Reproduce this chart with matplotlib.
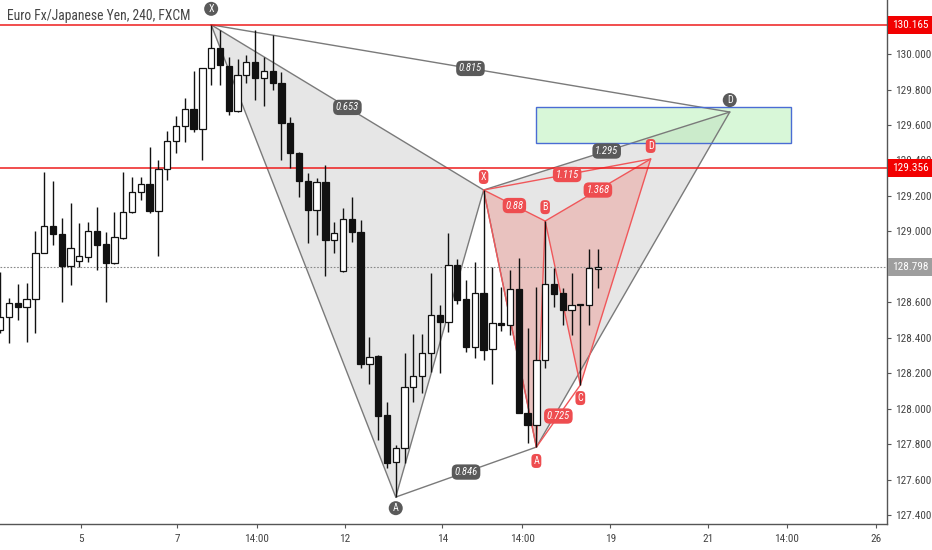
import matplotlib
matplotlib.use("Agg")
import matplotlib.pyplot as plt
from matplotlib.patches import Polygon, Rectangle
import matplotlib.transforms as mtransforms
from matplotlib import font_manager as fm

# ---------------- data ----------------
title = "Euro Fx/Japanese Yen, 240, FXCM"

opens = [128.443, 128.517, 128.596, 128.573, 128.618, 128.878, 129.030, 128.985, 128.804, 128.833,
         128.855, 129.002, 128.928, 128.821, 128.962, 129.109, 129.222, 129.267, 129.115, 129.351,
         129.509, 129.594, 129.690, 129.577, 129.921, 130.034, 129.932, 129.679, 129.882, 129.955,
         129.865, 129.904, 129.836, 129.611, 129.442, 129.284, 129.120, 129.278, 128.951, 128.776,
         129.069, 128.996, 128.252, 128.297, 127.964, 127.699, 127.778, 128.122, 128.184, 128.314,
         128.528, 128.488, 128.810, 128.618, 128.347, 128.652, 128.336, 128.483, 128.472, 128.675,
         127.975, 127.908, 128.274, 128.703, 128.652, 128.556, 128.584, 128.584, 128.787]
highs = [128.770, 128.624, 128.703, 128.708, 129.002, 129.334, 129.284, 129.075, 129.160, 129.047,
         129.052, 129.137, 128.996, 129.109, 129.334, 129.306, 129.306, 129.476, 129.402, 129.566,
         129.650, 129.752, 129.904, 129.921, 130.165, 130.135, 129.983, 129.972, 129.994, 130.135,
         129.983, 130.107, 129.899, 129.645, 129.447, 129.329, 129.301, 129.374, 129.052, 129.131,
         129.193, 129.064, 128.404, 128.302, 128.037, 127.795, 128.314, 128.421, 128.421, 128.765,
         128.584, 128.990, 128.844, 128.725, 128.827, 129.233, 128.799, 128.686, 128.782, 128.849,
         128.455, 128.686, 129.058, 128.793, 128.680, 128.765, 128.590, 128.900, 128.900]
lows = [128.426, 128.370, 128.500, 128.376, 128.426, 128.875, 128.923, 128.601, 128.697, 128.799,
        128.827, 128.782, 128.601, 128.815, 128.955, 129.103, 129.177, 129.103, 128.861, 129.289,
        129.442, 129.504, 129.560, 129.402, 129.825, 129.825, 129.656, 129.673, 129.836, 129.741,
        129.707, 129.797, 129.402, 129.357, 129.193, 128.934, 128.979, 128.748, 128.878, 128.770,
        128.940, 128.229, 128.139, 127.823, 127.665, 127.501, 127.693, 128.037, 128.088, 128.206,
        128.201, 128.432, 128.590, 128.319, 128.285, 128.274, 128.139, 128.438, 128.415, 127.975,
        127.806, 127.783, 128.229, 128.573, 128.472, 128.415, 128.133, 128.472, 128.680]
closes = [128.517, 128.596, 128.573, 128.618, 128.878, 129.030, 128.985, 128.804, 128.906, 128.861,
          129.002, 128.923, 128.821, 128.968, 129.109, 129.222, 129.267, 129.115, 129.351, 129.509,
          129.594, 129.690, 129.577, 129.921, 130.034, 129.938, 129.679, 129.882, 129.955, 129.865,
          129.904, 129.836, 129.611, 129.442, 129.284, 129.120, 129.278, 128.951, 128.990, 129.069,
          128.996, 128.252, 128.291, 127.958, 127.693, 127.778, 128.122, 128.184, 128.314, 128.528,
          128.488, 128.810, 128.613, 128.347, 128.652, 128.331, 128.483, 128.472, 128.675, 127.975,
          127.908, 128.274, 128.703, 128.646, 128.556, 128.584, 128.590, 128.793, 128.798]

# x tick labels and their positions (in bar units)
xtick_labels = ["5", "7", "14:00", "12", "14", "14:00", "19", "21", "14:00", "26"]
xtick_bars = [9.15, 20.1, 29.2, 39.2, 50.3, 59.4, 69.4, 80.5, 89.5, 99.6]

ytick_values = [127.4, 127.6, 127.8, 128.0, 128.2, 128.4, 128.6, 128.8, 129.0, 129.2, 129.4, 129.6, 129.8, 130.0]

# horizontal levels
red_levels = [130.165, 129.356]
last_price = 128.798

# harmonic pattern points (bar index, price)
grey_names = ["X", "A", "B", "C", "D"]
grey_bars = [24, 45, 55, 61, 83]
grey_prices = [130.165, 127.501, 129.233, 127.783, 129.673]
grey_ratios = {"XB": "0.653", "XD": "0.815", "AC": "0.846", "BD": "1.295"}

red_names = ["X", "A", "B", "C", "D"]
red_bars = [55, 61, 62, 66, 74]
red_prices = [129.233, 127.783, 129.058, 128.133, 129.408]
red_ratios = {"XB": "0.88", "XD": "1.115", "AC": "0.725", "BD": "1.368"}

# target zone box (bar start, bar end, price low, price high)
zone_bars = [61, 90]
zone_prices = [129.498, 129.701]

# ---------------- font choice (narrow font if available) ----------------
_fonts = fm.fontManager.ttflist
_names = {f.name for f in _fonts}


def _is_cond(f):
    s = f.stretch
    if isinstance(s, str):
        return 'condensed' in s or 'narrow' in s
    return s < 500


FSTRETCH = 'normal'
if 'Liberation Sans Narrow' in _names:
    FAM, FSCALE = 'Liberation Sans Narrow', 0.95
elif 'Roboto Condensed' in _names:
    FAM, FSCALE = 'Roboto Condensed', 0.85
elif any(f.name == 'DejaVu Sans' and _is_cond(f) for f in _fonts):
    FAM, FSCALE, FSTRETCH = 'DejaVu Sans', 0.75, 'condensed'
elif any(f.name == 'Open Sans' and _is_cond(f) for f in _fonts):
    FAM, FSCALE, FSTRETCH = 'Open Sans', 0.8, 'condensed'
else:
    FAM, FSCALE = 'Liberation Sans', 0.72

plt.rcParams['font.family'] = [FAM, 'DejaVu Sans']
plt.rcParams['font.stretch'] = FSTRETCH


def fs(v):
    return v * FSCALE


# ---------------- figure ----------------
fig = plt.figure(figsize=(9.32, 5.5), dpi=100)
ax = fig.add_axes([0, 26 / 550, 887 / 932, 524 / 550])
ax.set_xlim(-0.023, 100.89)
ax.set_ylim(127.349, 130.305)
ax.set_facecolor('white')

for s in ['top', 'left']:
    ax.spines[s].set_visible(False)
for s in ['right', 'bottom']:
    ax.spines[s].set_color('#555555')
    ax.spines[s].set_linewidth(1.0)

ax.yaxis.tick_right()
ax.set_yticks(ytick_values)
ax.set_yticklabels([f"{v:.3f}" for v in ytick_values])
ax.set_xticks(xtick_bars)
ax.set_xticklabels(xtick_labels)
ax.tick_params(axis='y', length=3, width=0.8, pad=2.5, labelsize=fs(9.5), colors='#555555', labelcolor='#444444')
ax.tick_params(axis='x', length=3, width=0.8, pad=4, labelsize=fs(9.5), colors='#555555', labelcolor='#444444')

# zone box
ax.add_patch(Rectangle((zone_bars[0], zone_prices[0]), zone_bars[1] - zone_bars[0],
                       zone_prices[1] - zone_prices[0],
                       facecolor='#b2f0b2', alpha=0.5, edgecolor='none', zorder=1.2))
ax.add_patch(Rectangle((zone_bars[0], zone_prices[0]), zone_bars[1] - zone_bars[0],
                       zone_prices[1] - zone_prices[0],
                       facecolor='none', edgecolor='#4a6cd4', lw=1.0, zorder=2.5))


def draw_pattern(bars, prices, ratios, fill, fill_alpha, line, lbl_fc):
    P = dict(zip("XABCD", zip(bars, prices)))
    for tri in ["XAB", "BCD"]:
        ax.add_patch(Polygon([P[k] for k in tri], closed=True, facecolor=fill, alpha=fill_alpha,
                             edgecolor='none', zorder=1))
    for seg in ["XA", "AB", "BC", "CD", "XB", "BD", "AC", "XD"]:
        (x1, y1), (x2, y2) = P[seg[0]], P[seg[1]]
        ax.plot([x1, x2], [y1, y2], color=line, lw=1.0, zorder=2, solid_capstyle='round')
    for seg, txt in ratios.items():
        (x1, y1), (x2, y2) = P[seg[0]], P[seg[1]]
        ax.text((x1 + x2) / 2, (y1 + y2) / 2, txt, ha='center', va='center', fontsize=fs(9),
                color='white', style='italic', zorder=8,
                bbox=dict(boxstyle='round,pad=0.25,rounding_size=0.5', fc=lbl_fc, ec='none'))
    return P


draw_pattern(grey_bars, grey_prices, grey_ratios, '#9e9e9e', 0.25, '#7a7a7a', '#5a5a5a')
draw_pattern(red_bars, red_prices, red_ratios, '#f44336', 0.22, '#f0575a', '#ee4d50')

# horizontal lines
for lv in red_levels:
    ax.axhline(lv, color='#ee1c1c', lw=1.1, zorder=2.2)
ax.axhline(last_price, color='#888888', lw=0.8, ls=(0, (1.5, 1.5)), zorder=2.2)

# candles
w = 0.72
for i, (o, h, l, c) in enumerate(zip(opens, highs, lows, closes)):
    ax.vlines(i, l, h, color='#111111', lw=1.0, zorder=3)
    up = c >= o
    ax.add_patch(Rectangle((i - w / 2, min(o, c)), w, max(abs(c - o), 0.006),
                           facecolor='white' if up else '#111111',
                           edgecolor='#111111', lw=0.9, zorder=4))

# point labels
grey_off = {"X": 11.5, "A": -8, "D": 8.6}
for name, b, p in zip(grey_names, grey_bars, grey_prices):
    if name in grey_off:
        ax.annotate(name, xy=(b, p), xytext=(0, grey_off[name]), textcoords='offset points',
                    ha='center', va='center', fontsize=fs(8.5), color='white', zorder=9,
                    bbox=dict(boxstyle='circle,pad=0.2', fc='#5a5a5a', ec='none'))
red_off = {"X": 9.4, "A": -10, "B": 10, "C": -9.4, "D": 9.4}
for name, b, p in zip(red_names, red_bars, red_prices):
    ax.annotate(name, xy=(b, p), xytext=(0, red_off[name]), textcoords='offset points',
                ha='center', va='center', fontsize=fs(8.5), color='white', zorder=9,
                bbox=dict(boxstyle='round,pad=0.2,rounding_size=0.4', fc='#ee4d50', ec='none'))

# right-axis price labels
trans = mtransforms.blended_transform_factory(ax.transAxes, ax.transData)
for lv in red_levels:
    ax.text(1.0 + 5 / 887, lv, f"{lv:.3f}", transform=trans, ha='left', va='center', fontsize=fs(9.5),
            color='white', zorder=10, clip_on=False,
            bbox=dict(boxstyle='square,pad=0.35', fc='#f20000', ec='none'))
ax.text(1.0 + 5 / 887, last_price, f"{last_price:.3f}", transform=trans, ha='left', va='center',
        fontsize=fs(9.5), color='white', zorder=10, clip_on=False,
        bbox=dict(boxstyle='square,pad=0.35', fc='#9e9e9e', ec='none'))

# title
ax.text(7 / 887, 1 - 16 / 524, title, transform=ax.transAxes, ha='left', va='center',
        fontsize=fs(11.5), color='#444444', zorder=10)

fig.savefig("out.png", dpi=100)
